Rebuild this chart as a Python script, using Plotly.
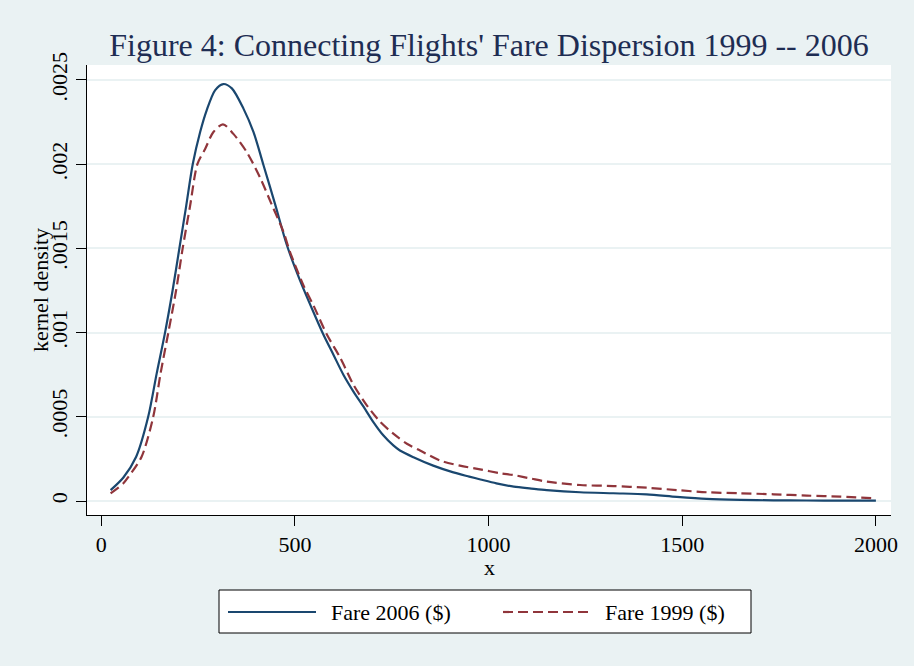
import plotly.graph_objects as go

# ---- data ----
fare2006_x = [24, 57, 90, 121, 143, 164.5, 184, 201.5, 219, 236, 255, 272, 294, 315, 337,
              367, 393, 418, 449, 479, 513, 548, 573, 599, 625, 651, 677, 702, 728, 754, 771,
              806, 857, 909, 950, 979, 1020, 1065, 1110, 1150, 1236, 1322, 1408, 1486, 1563,
              1650, 1736, 1822, 1908, 2000]
fare2006_y = [0.000065, 0.00014, 0.000263, 0.0005, 0.000758, 0.001, 0.00125, 0.0015, 0.00175,
              0.002, 0.00219, 0.00232, 0.00244, 0.002476, 0.00245, 0.00233, 0.00219, 0.002,
              0.00176, 0.00152, 0.00131, 0.00112, 0.00099, 0.00087, 0.00075, 0.00065, 0.00056,
              0.00047, 0.00039, 0.00033, 0.0003, 0.00026, 0.00021, 0.00017, 0.000145, 0.000128,
              0.000105, 0.000085, 0.000074, 0.000065, 0.000052, 0.000046, 0.00004, 0.000025,
              0.000013, 0.000007, 0.000004, 0.000003, 0.000002, 0.000002]

fare1999_x = [24, 57, 70, 104, 134, 153, 173, 193, 210, 229, 248, 268, 289, 314, 341, 376,
              410, 440, 470, 487, 522, 548, 582, 617, 651, 685, 720, 754, 789, 823, 875, 926,
              978, 1030, 1065, 1110, 1150, 1236, 1322, 1408, 1486, 1563, 1650, 1736, 1822,
              1908, 2000]
fare1999_y = [0.000046, 0.000105, 0.000144, 0.000263, 0.0005, 0.000758, 0.001, 0.00125,
              0.0015, 0.00175, 0.002, 0.00209, 0.00219, 0.002237, 0.00218, 0.00207, 0.00192,
              0.00176, 0.0016, 0.00148, 0.00128, 0.00116, 0.00099, 0.00085, 0.00069, 0.00057,
              0.00047, 0.0004, 0.00034, 0.0003, 0.00024, 0.00021, 0.000188, 0.000165, 0.000154,
              0.000133, 0.000115, 0.000095, 0.000089, 0.000079, 0.000065, 0.000052, 0.000046,
              0.00004, 0.000032, 0.000026, 0.000016]

series_names = ["Fare 2006 ($)", "Fare 1999 ($)"]
x_tick_vals = [0, 500, 1000, 1500, 2000]
x_tick_text = ["0", "500", "1000", "1500", "2000"]
y_tick_vals = [0, 0.0005, 0.001, 0.0015, 0.002, 0.0025]
y_tick_text = ["0", ".0005", ".001", ".0015", ".002", ".0025"]

# ---- style ----
BG = "#EAF2F3"
BLUE = "#1A476F"
RED = "#90353B"
FONT = "Liberation Serif"
DASH = "10px,5px"

fig = go.Figure()
fig.add_trace(go.Scatter(x=fare2006_x, y=fare2006_y, mode="lines", name=series_names[0],
                         line=dict(color=BLUE, width=2.2, shape="spline", smoothing=0.8),
                         showlegend=False))
fig.add_trace(go.Scatter(x=fare1999_x, y=fare1999_y, mode="lines", name=series_names[1],
                         line=dict(color=RED, width=2.2, dash=DASH, shape="spline", smoothing=0.8),
                         showlegend=False))

# manual Stata-style legend box below the plot
L, W, T, H = 87, 804, 65, 450
def px(xp):
    return (xp - L) / W
def py(yp):
    return (T + H - yp) / H

shapes = [
    dict(type="rect", xref="paper", yref="paper", x0=px(219), x1=px(751), y0=py(633), y1=py(590),
         line=dict(color="#000000", width=1), fillcolor="white", layer="above"),
    dict(type="line", xref="paper", yref="paper", x0=px(228), x1=px(316), y0=py(612), y1=py(612),
         line=dict(color=BLUE, width=2.2)),
    dict(type="line", xref="paper", yref="paper", x0=px(503), x1=px(593), y0=py(612), y1=py(612),
         line=dict(color=RED, width=2.2, dash=DASH)),
]
annotations = [
    dict(xref="paper", yref="paper", x=px(329), y=py(612), xanchor="left", yanchor="middle",
         text=series_names[0], showarrow=False, font=dict(family=FONT, size=22, color="#000000")),
    dict(xref="paper", yref="paper", x=px(603), y=py(612), xanchor="left", yanchor="middle",
         text=series_names[1], showarrow=False, font=dict(family=FONT, size=22, color="#000000")),
    # axis titles, placed like Stata
    dict(xref="paper", yref="paper", x=px(40), y=0.5, xanchor="center", yanchor="middle",
         text="kernel density", textangle=-90, showarrow=False,
         font=dict(family=FONT, size=22, color="#000000")),
    dict(xref="paper", yref="paper", x=0.5, y=py(567), xanchor="center", yanchor="middle",
         text="x", showarrow=False, font=dict(family=FONT, size=22, color="#000000")),
]

fig.update_layout(
    width=914, height=666,
    margin=dict(l=87, r=23, t=65, b=151, autoexpand=False),
    paper_bgcolor=BG, plot_bgcolor="white",
    font=dict(family=FONT, size=22, color="#000000"),
    title=dict(text="Figure 4: Connecting Flights' Fare Dispersion 1999 -- 2006",
               x=0.5, xref="paper", xanchor="center",
               y=1 - 45 / 666, yref="container", yanchor="middle",
               font=dict(family=FONT, size=32, color="#1E2D53")),
    xaxis=dict(range=[-37, 2039], tickmode="array", tickvals=x_tick_vals, ticktext=x_tick_text,
               showgrid=False, zeroline=False, showline=True, linecolor="#000000", linewidth=1,
               ticks="outside", ticklen=10, tickcolor="#000000", tickwidth=1,
               tickfont=dict(family=FONT, size=22, color="#000000")),
    yaxis=dict(range=[-0.000083, 0.002589], tickmode="array", tickvals=y_tick_vals, ticktext=y_tick_text,
               tickangle=-90, showgrid=True, gridcolor=BG, gridwidth=2,
               zeroline=False, showline=True, linecolor="#000000", linewidth=1,
               ticks="outside", ticklen=10, tickcolor="#000000", tickwidth=1,
               tickfont=dict(family=FONT, size=22, color="#000000")),
    shapes=shapes,
    annotations=annotations,
    showlegend=False,
)

fig.write_html("out.html", config={"displayModeBar": False},
               post_script="document.body.style.margin='0px';")
